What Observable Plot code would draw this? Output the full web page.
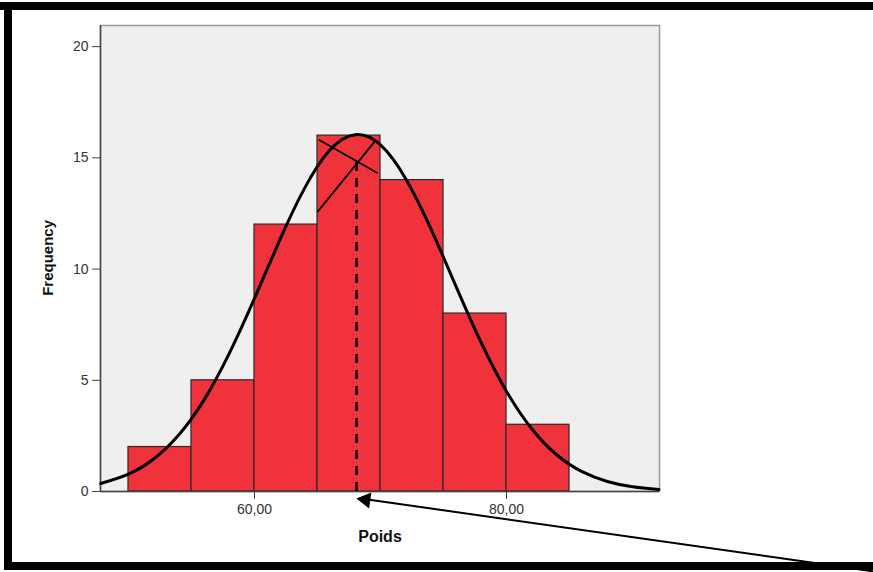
<!DOCTYPE html>
<html>
<head>
<meta charset="utf-8">
<script src="https://cdn.jsdelivr.net/npm/d3@7"></script>
<script src="https://cdn.jsdelivr.net/npm/@observablehq/plot@0.6"></script>
<style>
  html, body { margin: 0; padding: 0; background: #fff; }
  #wrap { position: relative; width: 873px; height: 572px; overflow: hidden; }
  #chart { position: absolute; left: 0; top: 0; }
  .bt { position: absolute; background: #000; pointer-events: none; }
</style>
</head>
<body>
<div id="wrap">
  <div id="chart"></div>
  <div class="bt" style="left:0;top:2px;width:873px;height:8px"></div>
  <div class="bt" style="left:4px;top:2px;width:8px;height:568px"></div>
  <div class="bt" style="left:4px;top:562px;width:869px;height:8px"></div>
</div>
<script>
// Histogram bins (Poids) and counts
const binStart = [50, 55, 60, 65, 70, 75, 80];
const binEnd   = [55, 60, 65, 70, 75, 80, 85];
const counts   = [2, 5, 12, 16, 14, 8, 3];

// Normal curve points
const curveX = [47.8, 50, 52, 54, 56, 58, 60, 62, 64, 66, 68, 70, 72, 74, 76, 78, 80, 82, 84, 86, 88, 90, 92.1];
const curveY = [0.36, 0.78, 1.46, 2.55, 4.12, 6.21, 8.68, 11.30, 13.66, 15.36, 16.04, 15.58, 14.06, 11.81, 9.21, 6.68, 4.50, 2.82, 1.64, 0.89, 0.45, 0.21, 0.09];

// Hand-drawn mode construction lines (x1, y1, x2, y2)
const modeLineX1 = [65.1, 65.0];
const modeLineY1 = [15.81, 12.57];
const modeLineX2 = [69.76, 69.52];
const modeLineY2 = [14.32, 15.72];

// Mean dashed line
const meanX = 68.1;
const meanTop = 14.8;

// Arrow annotation (tail -> tip)
const arrowTail = [109.2, -3.6];
const arrowTip  = [68.1, -0.32];
const arrowHeadCenter = [68.82, -0.37];

const yTicks = [0, 5, 10, 15, 20];
const xTicks = [60, 80];
const xTickLabels = ["60,00", "80,00"];

const bars = binStart.map((s, i) => ({x1: s, x2: binEnd[i], y: counts[i]}));
const curve = curveX.map((x, i) => ({x, y: curveY[i]}));
const modeLines = modeLineX1.map((x1, i) => ({x1, y1: modeLineY1[i], x2: modeLineX2[i], y2: modeLineY2[i]}));

const font = "'Liberation Sans', Arial, sans-serif";
const xMin = 47.78, xMax = 92.14;

const plot = Plot.plot({
  width: 873,
  height: 572,
  marginLeft: 100,
  marginRight: 214,
  marginTop: 25,
  marginBottom: 81,
  style: {fontFamily: font, fontSize: "14px", color: "#333", background: "transparent"},
  x: {domain: [xMin, xMax]},
  y: {domain: [0, 20.95]},
  marks: [
    Plot.frame({fill: "#efefef", stroke: "#9a9a9a", strokeWidth: 1.5}),
    Plot.rectY(bars, {x1: "x1", x2: "x2", y: "y", fill: "#f0333b", stroke: "#2a2a2a", strokeWidth: 1.2, inset: 0}),
    Plot.ruleY([0], {stroke: "#444", strokeWidth: 1.5}),
    Plot.ruleX([xMin], {stroke: "#444", strokeWidth: 1.5}),
    Plot.line(curve, {x: "x", y: "y", curve: "natural", stroke: "#000", strokeWidth: 3}),
    Plot.link(modeLines, {x1: "x1", y1: "y1", x2: "x2", y2: "y2", stroke: "#000", strokeWidth: 1.8}),
    Plot.ruleX([meanX], {y1: 0, y2: meanTop, stroke: "#000", strokeWidth: 2.5, strokeDasharray: "9,7"}),
    Plot.axisY({ticks: yTicks, tickSize: 8, tickPadding: 4, label: null, stroke: "#444", fill: "#333", fontSize: 14}),
    Plot.axisX({ticks: xTicks, tickFormat: (d) => xTickLabels[xTicks.indexOf(d)], tickSize: 8, tickPadding: 5, label: null, stroke: "#444", fill: "#333", fontSize: 14}),
    Plot.text(["Poids"], {frameAnchor: "bottom", dy: 50, text: d => d, fontWeight: "bold", fontSize: 16, fill: "#111", letterSpacing: "0.8px", textAnchor: "middle"}),
    Plot.text(["Frequency"], {x: xMin, y: 10.5, dx: -52, rotate: -90, text: d => d, fontWeight: "bold", fontSize: 15, fill: "#111"}),
    Plot.link([0], {x1: () => arrowTail[0], y1: () => arrowTail[1], x2: () => arrowHeadCenter[0] + 0.3, y2: () => arrowHeadCenter[1], stroke: "#000", strokeWidth: 2, clip: false}),
    Plot.dot([0], {x: () => arrowHeadCenter[0], y: () => arrowHeadCenter[1], symbol: "triangle", r: 6, rotate: -82, fill: "#000", stroke: "none"})
  ]
});
document.getElementById("chart").appendChild(plot);
</script>
</body>
</html>
